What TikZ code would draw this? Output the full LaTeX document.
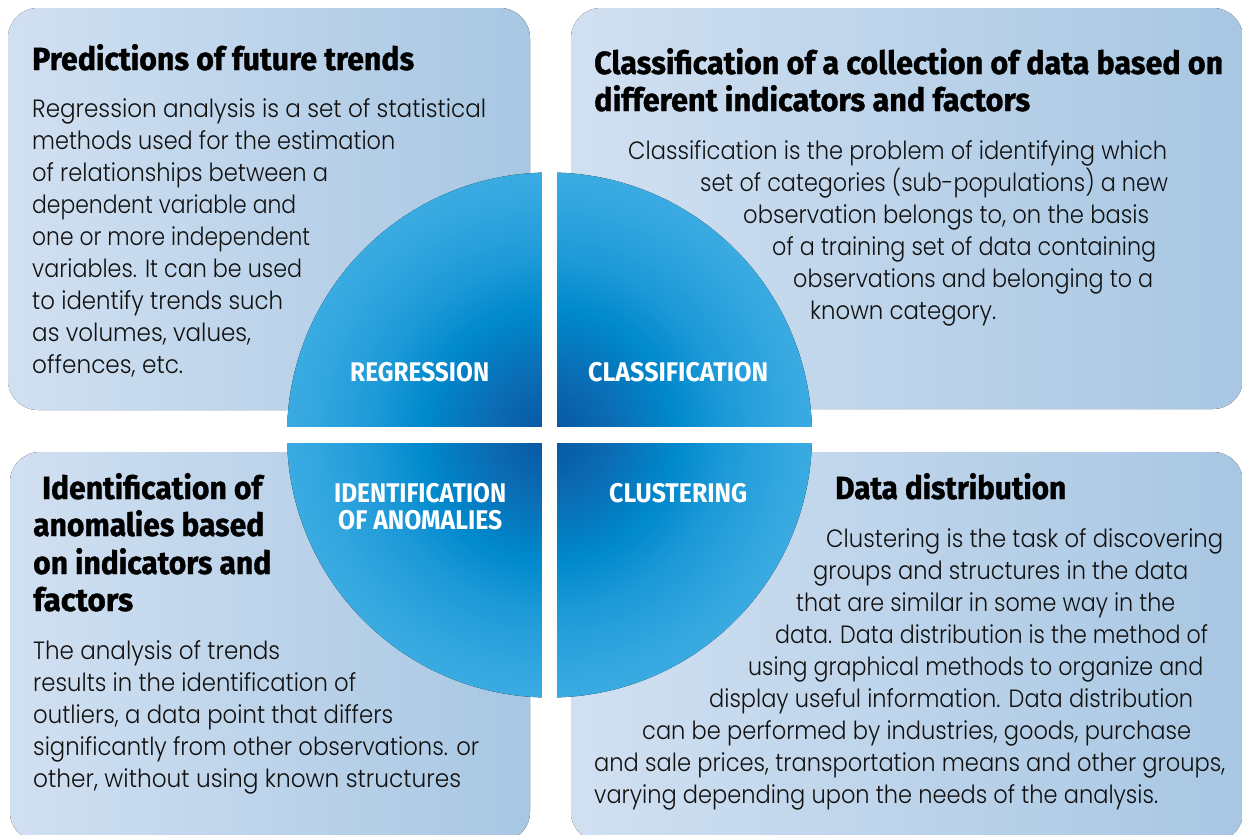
\documentclass[tikz,border=0pt]{standalone}
\usepackage{fontspec}
\usepackage{graphicx}
\setmainfont{Poppins}[UprightFont=* Light]
\newfontfamily\headfont{Fira Sans}[BoldFeatures={FakeBold=1.2}]
\newfontfamily\labelfont{Fira Sans}
\usetikzlibrary{calc}
\definecolor{boxL}{HTML}{D1E0F1}
\definecolor{boxR}{HTML}{A8C7E3}
\definecolor{bodytext}{HTML}{111111}
\definecolor{qc0}{HTML}{0856A2}
\definecolor{qc1}{HTML}{0A6CB4}
\definecolor{qc2}{HTML}{0089CC}
\definecolor{qc3}{HTML}{1E9AD8}
\definecolor{qc4}{HTML}{35A8E0}
\definecolor{qc5}{HTML}{3AABE1}
\pgfdeclareradialshading{quadshade}{\pgfpoint{0bp}{0bp}}{color(0bp)=(qc0); color(6bp)=(qc1); color(12bp)=(qc2); color(17bp)=(qc3); color(23bp)=(qc4); color(25bp)=(qc5); color(50bp)=(qc5)}
\newcommand{\fitw}[2]{\setbox0=\hbox{#2}\pgfmathsetmacro{\fitfac}{#1/\the\wd0}\scalebox{\fitfac}[1]{\box0}}
\tikzset{
  infobox/.style={left color=boxL, right color=boxR, rounded corners=30pt, draw=none},
  bodyline/.style={anchor=base west, inner sep=0pt, font=\fontsize{25}{30}\selectfont, text=bodytext},
  headline/.style={anchor=base west, inner sep=0pt, font=\headfont\bfseries\fontsize{32}{37}\selectfont, text=black},
  qlabel/.style={anchor=base west, inner sep=0pt, font=\labelfont\bfseries\fontsize{27}{30}\selectfont, text=white},
}
\begin{document}
\begin{tikzpicture}[x=1pt,y=-1pt]
\useasboundingbox (0,0) rectangle (1242,835);
\clip (0,0) rectangle (1242,835);
\fill[white] (0,0) rectangle (1242,835);
% boxes
\fill[infobox] (8,8) rectangle (530,410);
\fill[infobox] (571,8) rectangle (1243,409);
\fill[infobox] (10,452) rectangle (530,842);
\fill[infobox] (571,452) rectangle (1243,842);
% circle
\coordinate (c) at (549.5,435);
\fill[shading=quadshade] (c) circle (262.5);
\fill[white] (542,165) rectangle (557,705);
\fill[white] (280,427) rectangle (820,443);
% quadrant labels
\node[qlabel] (qreg) at (350,381) {\fitw{139}{REGRESSION}};
\node[qlabel] (qcla) at (588,381) {\fitw{180}{CLASSIFICATION}};
\node[qlabel] (qid1) at (334,502) {\fitw{172}{IDENTIFICATION}};
\node[qlabel] (qid2) at (338,529) {\fitw{164}{OF ANOMALIES}};
\node[qlabel] (qclu) at (609,502) {\fitw{138}{CLUSTERING}};
% top-left
\node[headline] (h1) at (32,70) {\fitw{382}{Predictions of future trends}};
\node[bodyline] (a1) at (32,117) {\fitw{454}{Regression analysis is a set of statistical}};
\node[bodyline] (a2) at (32,149) {\fitw{363}{methods used for the estimation}};
\node[bodyline] (a3) at (32,181) {\fitw{296}{of relationships between a}};
\node[bodyline] (a4) at (32,213) {\fitw{264}{dependent variable and}};
\node[bodyline] (a5) at (32,245) {\fitw{278}{one or more independent}};
\node[bodyline] (a6) at (32,277) {\fitw{270}{variables. It can be used}};
\node[bodyline] (a7) at (32,309) {\fitw{251}{to identify trends such}};
\node[bodyline] (a8) at (32,341) {\fitw{219}{as volumes, values,}};
\node[bodyline] (a9) at (32,373) {\fitw{151}{offences, etc.}};
% top-right
\node[headline] (h2a) at (594,74) {\fitw{629}{Classification of a collection of data based on}};
\node[headline] (h2b) at (594,111) {\fitw{436}{different indicators and factors}};
\node[bodyline] (b1) at (628,159) {\fitw{539}{Classification is the problem of identifying which}};
\node[bodyline] (b2) at (700,191) {\fitw{468}{set of categories (sub-populations) a new}};
\node[bodyline] (b3) at (743,223) {\fitw{406}{observation belongs to, on the basis}};
\node[bodyline] (b4) at (772,255) {\fitw{384}{of a training set of data containing}};
\node[bodyline] (b5) at (793,287) {\fitw{360}{observations and belonging to a}};
\node[bodyline] (b6) at (810,319) {\fitw{186}{known category.}};
% bottom-left
\node[headline] (h3a) at (42,499) {\fitw{220}{Identification of}};
\node[headline] (h3b) at (33,536) {\fitw{231}{anomalies based}};
\node[headline] (h3c) at (33,574) {\fitw{238}{on indicators and}};
\node[headline] (h3d) at (33,611) {\fitw{100}{factors}};
\node[bodyline] (c1) at (33,659) {\fitw{247}{The analysis of trends}};
\node[bodyline] (c2) at (33,691) {\fitw{323}{results in the identification of}};
\node[bodyline] (c3) at (33,723) {\fitw{360}{outliers, a data point that differs}};
\node[bodyline] (c4) at (33,755) {\fitw{446}{significantly from other observations. or}};
\node[bodyline] (c5) at (33,787) {\fitw{428}{other, without using known structures}};
% bottom-right
\node[headline] (h4) at (835,499) {\fitw{231}{Data distribution}};
\node[bodyline] (d1) at (826,547) {\fitw{397}{Clustering is the task of discovering}};
\node[bodyline] (d2) at (813,579) {\fitw{375}{groups and structures in the data}};
\node[bodyline] (d3) at (796,611) {\fitw{379}{that are similar in some way in the}};
\node[bodyline] (d4) at (775,643) {\fitw{433}{data. Data distribution is the method of}};
\node[bodyline] (d5) at (748,675) {\fitw{455}{using graphical methods to organize and}};
\node[bodyline] (d6) at (709,707) {\fitw{484}{display useful information. Data distribution}};
\node[bodyline] (d7) at (642,739) {\fitw{549}{can be performed by industries, goods, purchase}};
\node[bodyline] (d8) at (594,771) {\fitw{631}{and sale prices, transportation means and other groups,}};
\node[bodyline] (d9) at (594,803) {\fitw{564}{varying depending upon the needs of the analysis.}};
\end{tikzpicture}
\end{document}
